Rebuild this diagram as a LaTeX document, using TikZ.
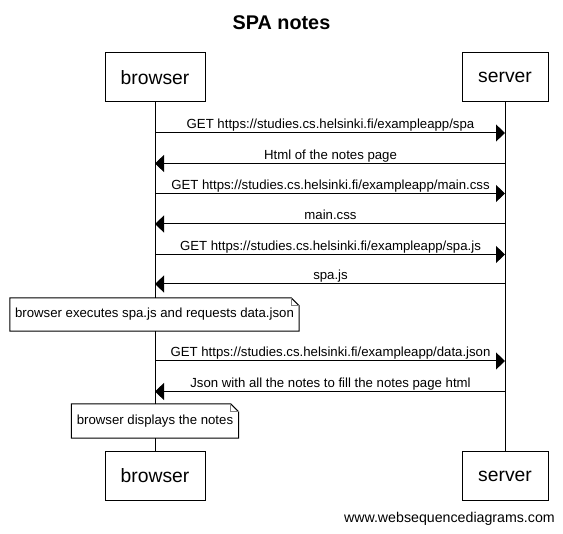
\documentclass[tikz,border=0pt]{standalone}
\usepackage{fontspec}
\setmainfont{Liberation Sans}
\usetikzlibrary{arrows.meta}
\begin{document}
\begin{tikzpicture}[x=1pt,y=-1pt,
  actor/.style={draw,line width=1pt,minimum width=#1,minimum height=49pt,inner sep=0pt,font=\fontsize{19.3}{22}\selectfont},
  msg/.style={line width=1pt,-{Triangle[length=9pt,width=17pt]}},
  lbl/.style={anchor=base,inner sep=0pt,font=\fontsize{13.2}{15}\selectfont},
  notebox/.style={fill=white,minimum width=#1,minimum height=33pt,inner sep=0pt,font=\fontsize{13.2}{15}\selectfont},
  life/.style={line width=1pt}]
\useasboundingbox (0,0) rectangle (563,534);
\node[font=\bfseries\fontsize{19.8}{22}\selectfont] (title) at (281.5,22.5) {SPA notes};
\node[actor=100pt] (bt) at (155,77.5) {browser};
\node[actor=86pt] (st) at (505,77.5) {server};
\node[actor=100pt] (bb) at (155,476) {browser};
\node[actor=86pt] (sb) at (505,476) {server};
\draw[life] (bt) -- (bb);
\draw[life] (st) -- (sb);
% message anchors on lifelines
\foreach \i/\y in {1/133,2/163.5,3/193.5,4/224,5/254.5,6/284,7/361,8/391.5}{
  \coordinate (b\i) at (155,\y);
  \coordinate (s\i) at (505,\y);
}
\draw[msg] (b1) -- (s1);
\node[lbl] (l1) at (330.5,129) {GET https://studies.cs.helsinki.fi/exampleapp/spa};
\draw[msg] (s2) -- (b2);
\node[lbl] (l2) at (330.5,159.5) {Html of the notes page};
\draw[msg] (b3) -- (s3);
\node[lbl] (l3) at (330.5,189.5) {GET https://studies.cs.helsinki.fi/exampleapp/main.css};
\draw[msg] (s4) -- (b4);
\node[lbl] (l4) at (330.5,220) {main.css};
\draw[msg] (b5) -- (s5);
\node[lbl] (l5) at (330.5,250.5) {GET https://studies.cs.helsinki.fi/exampleapp/spa.js};
\draw[msg] (s6) -- (b6);
\node[lbl] (l6) at (330.5,280) {spa.js};
\draw[msg] (b7) -- (s7);
\node[lbl] (l7) at (330.5,357) {GET https://studies.cs.helsinki.fi/exampleapp/data.json};
\draw[msg] (s8) -- (b8);
\node[lbl] (l8) at (330.5,387.5) {Json with all the notes to fill the notes page html};
% notes
\node[notebox=289pt] (n1) at (154.5,314.5) {browser executes spa.js and requests data.json};
\draw[line width=1pt] (n1.north west) -- ([xshift=-8pt]n1.north east) -- ([yshift=-8pt]n1.north east) -- (n1.south east) -- (n1.south west) -- cycle;
\draw[line width=0.6pt,gray] ([xshift=-8pt]n1.north east) |- ([yshift=-8pt]n1.north east);
\node[notebox=167pt,minimum height=34pt] (n2) at (155,421) {browser displays the notes};
\draw[line width=1pt] (n2.north west) -- ([xshift=-8pt]n2.north east) -- ([yshift=-8pt]n2.north east) -- (n2.south east) -- (n2.south west) -- cycle;
\draw[line width=0.6pt,gray] ([xshift=-8pt]n2.north east) |- ([yshift=-8pt]n2.north east);
\node[anchor=base east,inner sep=0pt,font=\fontsize{14.2}{16}\selectfont] (foot) at (555,523) {www.websequencediagrams.com};
\end{tikzpicture}
\end{document}
